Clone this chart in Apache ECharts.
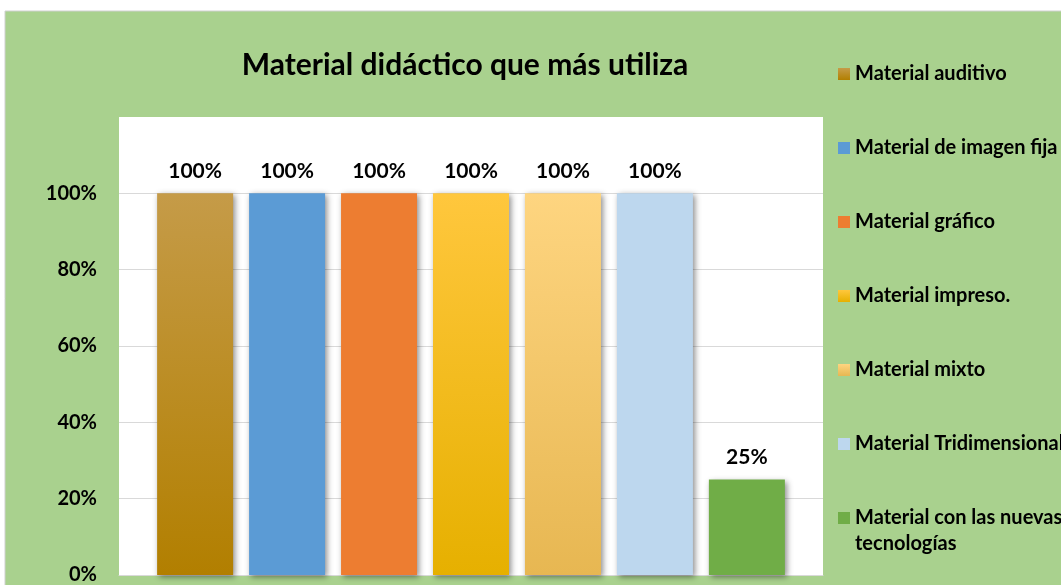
<!DOCTYPE html>
<html>
<head>
<meta charset="utf-8">
<script src="https://cdn.jsdelivr.net/npm/echarts@6/dist/echarts.min.js"></script>
<style>
  html, body { margin: 0; padding: 0; background: #fff; }
  #chart { width: 1061px; height: 585px; }
</style>
</head>
<body>
<div id="chart"></div>
<script>
var materiales = ['Material auditivo', 'Material de imagen fija', 'Material gráfico',
  'Material impreso.', 'Material mixto', 'Material Tridimensional',
  'Material con las nuevas\ntecnologías'];
var porcentajes = [1, 1, 1, 1, 1, 1, 0.25];
var ticks = [0, 0.2, 0.4, 0.6, 0.8, 1.0];

// colores de cada barra (arriba, abajo)
var colores = [
  ['#c59b48', '#b27f00'],
  ['#5b9bd5', '#5b9bd5'],
  ['#ed7d31', '#ed7d31'],
  ['#ffc73d', '#e6b000'],
  ['#fed580', '#e7b752'],
  ['#bdd7ee', '#bdd7ee'],
  ['#70ad47', '#70ad47']
];

var chart = echarts.init(document.getElementById('chart'));
var fuente = 'Lato, "Open Sans", sans-serif';

var series = materiales.map(function (nombre, i) {
  return {
    name: nombre,
    type: 'bar',
    data: [porcentajes[i]],
    barWidth: 76,
    barGap: '21%',
    itemStyle: {
      color: new echarts.graphic.LinearGradient(0, 0, 0, 1, [
        { offset: 0, color: colores[i][0] },
        { offset: 1, color: colores[i][1] }
      ]),
      shadowBlur: 6,
      shadowColor: 'rgba(0,0,0,0.45)',
      shadowOffsetX: 2,
      shadowOffsetY: 2
    },
    label: {
      show: true,
      position: 'top',
      distance: 12,
      fontFamily: fuente,
      fontWeight: 'bold',
      fontSize: 21,
      color: '#000',
      formatter: function (p) { return Math.round(p.value * 100) + '%'; }
    }
  };
});

var textoLeyenda = { fontFamily: fuente, fontWeight: 'bold', fontSize: 20, color: '#000', lineHeight: 24 };
var ultimo = materiales.length - 1;

chart.setOption({
  backgroundColor: '#fff',
  animation: false,
  graphic: [{
    type: 'rect',
    z: -10,
    shape: { x: 5, y: 11, width: 1061, height: 585 },
    style: { fill: '#a9d18e', stroke: '#d0d0d0', lineWidth: 1 }
  }],
  title: {
    text: 'Material didáctico que más utiliza',
    left: 460,
    textAlign: 'center',
    top: 45,
    textStyle: { fontFamily: fuente, fontWeight: 'bold', fontSize: 30, color: '#000' }
  },
  // la ultima entrada ocupa dos lineas, va en una leyenda aparte
  legend: [{
    orient: 'vertical',
    left: 838,
    top: 62,
    padding: 0,
    itemWidth: 12,
    itemHeight: 12,
    itemGap: 50,
    icon: 'rect',
    textStyle: textoLeyenda,
    data: materiales.slice(0, ultimo)
  }, {
    orient: 'vertical',
    left: 838,
    top: 479,
    padding: 0,
    itemWidth: 12,
    itemHeight: 12,
    icon: 'rect',
    textStyle: Object.assign({}, textoLeyenda, { lineHeight: 26 }),
    // linea vacia arriba para que la primera linea quede junto al cuadro
    formatter: function (name) { return '\n' + name; },
    data: [materiales[ultimo]]
  }],
  grid: {
    left: 119,
    right: 238,
    top: 117,
    bottom: 9,
    show: true,
    backgroundColor: '#fff',
    borderWidth: 0
  },
  xAxis: {
    type: 'category',
    data: [''],
    axisLine: { lineStyle: { color: '#d9d9d9' } },
    axisTick: { show: false },
    axisLabel: { show: false }
  },
  yAxis: {
    type: 'value',
    min: 0,
    max: 1.2,
    interval: 0.2,
    axisLine: { show: false },
    axisTick: { show: false },
    axisLabel: {
      margin: 22,
      fontFamily: fuente,
      fontWeight: 'bold',
      fontSize: 20,
      color: '#000',
      formatter: function (v) {
        var t = Math.round(v * 100);
        return ticks.indexOf(t / 100) >= 0 ? t + '%' : '';
      }
    },
    splitLine: {
      lineStyle: {
        color: ['#d9d9d9', '#d9d9d9', '#d9d9d9', '#d9d9d9', '#d9d9d9', '#d9d9d9', 'rgba(0,0,0,0)']
      }
    }
  },
  series: series
});
</script>
</body>
</html>
